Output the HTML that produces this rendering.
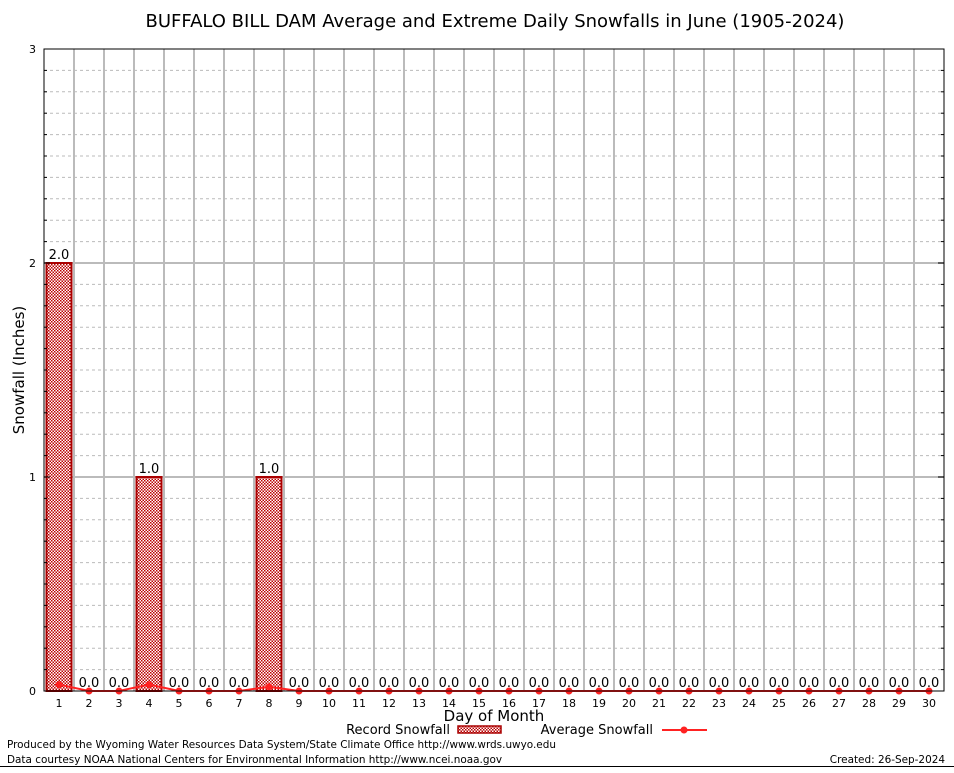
<!DOCTYPE html>
<html><head><meta charset="utf-8"><style>
body{margin:0;background:#fff;}
svg text{font-family:"DejaVu Sans","Liberation Sans",sans-serif;}
</style></head><body>
<svg id="chart" width="954" height="768" xmlns="http://www.w3.org/2000/svg">
<defs>
<pattern id="chk" width="3" height="3" patternUnits="userSpaceOnUse">
<rect width="3" height="3" fill="#fff"/><rect width="1.5" height="1.5" fill="#b00"/><rect x="1.5" y="1.5" width="1.5" height="1.5" fill="#b00"/>
</pattern>
</defs>
<rect width="954" height="768" fill="#fff"/>
<text x="495" y="27" font-size="18" text-anchor="middle">BUFFALO BILL DAM Average and Extreme Daily Snowfalls in June (1905-2024)</text>
<g id="grid"></g>
<g id="bars"></g>
<g id="avg"></g>
<rect x="44" y="49" width="900" height="642" fill="none" stroke="#000" stroke-width="1"/>
<g id="axes"></g>
<text transform="translate(24,370) rotate(-90)" font-size="15" text-anchor="middle">Snowfall (Inches)</text>
<text x="494" y="721" font-size="15" text-anchor="middle">Day of Month</text>
<g>
<text x="450" y="734" font-size="13" text-anchor="end">Record Snowfall</text>
<rect x="458" y="726" width="43" height="7" fill="url(#chk)" stroke="#a00" stroke-width="1.5"/>
<text x="653" y="734" font-size="13" text-anchor="end">Average Snowfall</text>
<line x1="662" y1="730" x2="707" y2="730" stroke="#f22" stroke-width="2"/>
<circle cx="684" cy="730" r="3.5" fill="#f22"/>
</g>
<text x="7" y="748" font-size="10.45">Produced by the Wyoming Water Resources Data System/State Climate Office http://www.wrds.uwyo.edu</text>
<text x="7" y="763" font-size="10.45">Data courtesy NOAA National Centers for Environmental Information http://www.ncei.noaa.gov</text>
<text x="945" y="763" font-size="10.45" text-anchor="end">Created: 26-Sep-2024</text>
<line x1="0" y1="766.5" x2="954" y2="766.5" stroke="#000"/>
</svg>
<script>
const days=[1,2,3,4,5,6,7,8,9,10,11,12,13,14,15,16,17,18,19,20,21,22,23,24,25,26,27,28,29,30];
const recordSnow=[2,0,0,1,0,0,0,1,0,0,0,0,0,0,0,0,0,0,0,0,0,0,0,0,0,0,0,0,0,0];
const avgSnow=[0.03,0,0,0.03,0,0,0,0.02,0,0,0,0,0,0,0,0,0,0,0,0,0,0,0,0,0,0,0,0,0,0];
const yTicks=[0,1,2,3];
const NS="http://www.w3.org/2000/svg";
const L=44,R=944,T=49,B=691,yMax=3;
const bw=(R-L)/days.length;
const xs=i=>L+bw*(i+0.5);
const ys=v=>B-(v/yMax)*(B-T);
function mk(tag,attrs,parent){const e=document.createElementNS(NS,tag);for(const k in attrs)e.setAttribute(k,attrs[k]);parent.appendChild(e);return e;}
const grid=document.getElementById('grid'),bars=document.getElementById('bars'),avg=document.getElementById('avg'),axes=document.getElementById('axes');
for(let t=0.1;t<yMax-0.001;t+=0.1){
 const major=Math.abs(t-Math.round(t))<0.001;
 const l=mk('line',{x1:L,x2:R,y1:ys(t),y2:ys(t),stroke:'#bbb','stroke-width':major?2:1,'stroke-dasharray':major?'':'3,3'},grid);
 
 
 const tk=mk('line',{x1:L,x2:L+(major?6:3),y1:ys(t),y2:ys(t),stroke:'#000'},axes);
 
 
 const tk2=mk('line',{x1:R,x2:R-(major?6:3),y1:ys(t),y2:ys(t),stroke:'#000'},axes);
 
 
}
for(let i=1;i<days.length;i++){
 const l=mk('line',{x1:L+bw*i,x2:L+bw*i,y1:T,y2:B,stroke:'#bbb','stroke-width':2},grid);
 
 
}
yTicks.forEach(v=>{
 const t=mk('text',{x:L-8,y:ys(v)+4,'font-size':11,'text-anchor':'end','font-family':'Liberation Serif, serif'},axes);
 t.textContent=v;
 
 
});
days.forEach((d,i)=>{
 const t=mk('text',{x:xs(i),y:707,'font-size':11,'text-anchor':'middle','font-family':'Liberation Serif, serif'},axes);
 t.textContent=d;
 
 
 const v=recordSnow[i];
 if(v>0){
  const r=mk('rect',{x:xs(i)-12.5,y:ys(v),width:25,height:B-ys(v),fill:'url(#chk)',stroke:'#a00','stroke-width':2},bars);
  
  
 }
 const lb=mk('text',{x:xs(i),y:ys(v)-4,'font-size':13,'text-anchor':'middle'},bars);
 lb.textContent=v.toFixed(1);
 
 
});
const pts=days.map((d,i)=>xs(i)+','+ys(avgSnow[i])).join(' ');
const pl=mk('polyline',{points:pts,fill:'none',stroke:'#f22','stroke-width':2},avg);


days.forEach((d,i)=>{
 const c=mk('circle',{cx:xs(i),cy:ys(avgSnow[i]),r:3.5,fill:'#f22'},avg);
 
 
});
</script>
</body></html>
